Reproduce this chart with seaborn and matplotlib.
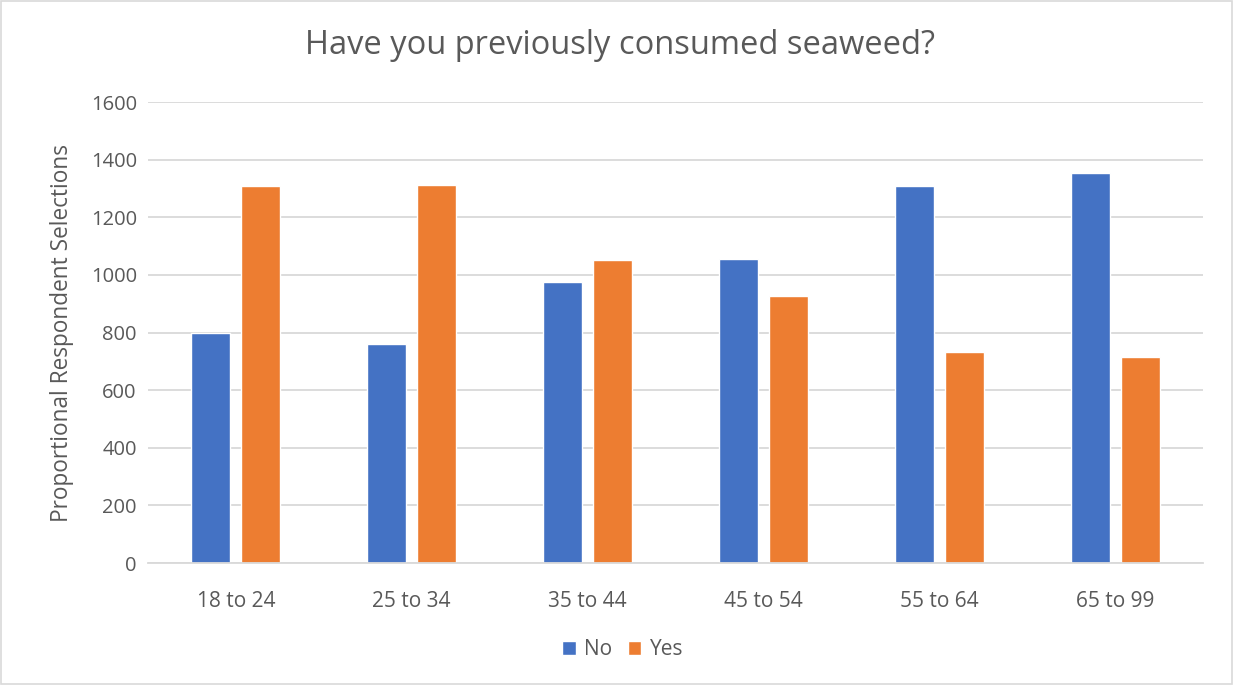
import matplotlib
matplotlib.use("Agg")
import matplotlib.pyplot as plt
import seaborn as sns
import pandas as pd
from matplotlib.patches import Rectangle

categories = ["18 to 24", "25 to 34", "35 to 44", "45 to 54", "55 to 64", "65 to 99"]
no_values = [800, 760, 976, 1054, 1310, 1353]
yes_values = [1309, 1312, 1052, 927, 733, 714]
series = ["No", "Yes"]

df = pd.DataFrame({
    "Age": categories * 2,
    "Answer": ["No"] * len(categories) + ["Yes"] * len(categories),
    "Value": no_values + yes_values,
})

sns.set_theme(style="white")
plt.rcParams["font.family"] = ["Open Sans", "DejaVu Sans"]

text_color = "#595959"
grid_color = "#D9D9D9"

fig = plt.figure(figsize=(12.33, 6.85), dpi=100)
ax = fig.add_axes([0.120, 0.178, 0.8557, 0.673])

sns.barplot(data=df, x="Age", y="Value", hue="Answer", order=categories,
            hue_order=series, palette=["#4472C4", "#ED7D31"],
            width=0.569, gap=0.22, errorbar=None, ax=ax, saturation=1)

ax.set_ylim(0, 1600)
ax.set_yticks(range(0, 1601, 200))
ax.set_xlim(-0.5, len(categories) - 0.5)
ax.yaxis.grid(True, color=grid_color, linewidth=1.3)
ax.set_axisbelow(True)
for s in ["top", "right", "left"]:
    ax.spines[s].set_visible(False)
ax.spines["bottom"].set_color(grid_color)
ax.spines["bottom"].set_linewidth(1.3)
ax.tick_params(axis="y", length=0, labelsize=14.5, colors=text_color, pad=8)
ax.tick_params(axis="x", length=0, labelsize=15, colors=text_color, pad=20)
ax.set_xlabel("")
ax.set_ylabel("Proportional Respondent Selections", fontsize=16.3, color=text_color, labelpad=12)

fig.suptitle("Have you previously consumed seaweed?", fontsize=23.5, color=text_color,
             y=0.958, x=0.503)

leg = ax.legend(loc="upper center", bbox_to_anchor=(0.450, -0.125), ncol=2, frameon=False,
                fontsize=15, handlelength=0.65, handleheight=0.65, columnspacing=0.75,
                handletextpad=0.4)
for t in leg.get_texts():
    t.set_color(text_color)

fig.patches.append(Rectangle((0.001, 0.001), 0.998, 0.997, transform=fig.transFigure,
                             fill=False, edgecolor="#D9D9D9", linewidth=1.2))

fig.savefig("out.png", dpi=100, facecolor="white")
